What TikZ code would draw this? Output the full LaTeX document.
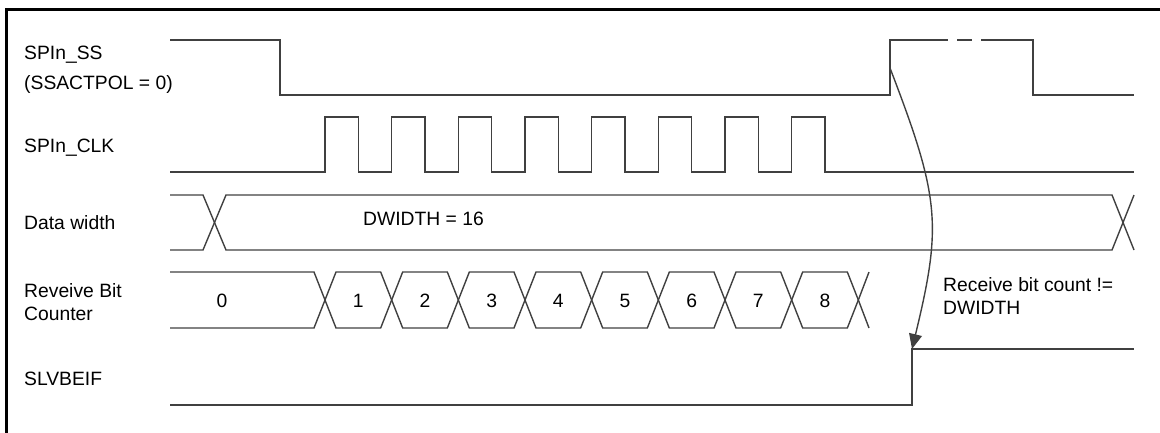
\documentclass[tikz,border=0pt]{standalone}
\usepackage{fontspec}
\setmainfont{Liberation Sans}
\usetikzlibrary{arrows.meta}
\begin{document}
\begin{tikzpicture}[x=1pt,y=-1pt,
  sig/.style={draw=black!75,line width=1.4pt,line join=miter},
  lbl/.style={inner sep=0pt,anchor=base west,font=\fontsize{19.3}{23}\selectfont},
  num/.style={inner sep=0pt,anchor=base,font=\fontsize{19.3}{23}\selectfont},
  frame/.style={draw=black,line width=2.6pt}]
\useasboundingbox (0,0) rectangle (1160,432);
% frame
\draw[frame] (6.5,433) -- (6.5,9.5) -- (1161,9.5);
% labels
\node[lbl] (lss1) at (24,59.6) {SPIn\_SS};
\node[lbl] (lss2) at (24,89) {(SSACTPOL = 0)};
\node[lbl] (lclk) at (24,152.4) {SPIn\_CLK};
\node[lbl] (ldw) at (24,229) {Data width};
\node[lbl] (lcnt1) at (24,297) {Reveive Bit};
\node[lbl] (lcnt2) at (24,320) {Counter};
\node[lbl] (lbe) at (24,385) {SLVBEIF};
% SPIn_SS
\draw[sig] (170,40) -- (280,40) -- (280,95) -- (890,95) -- (890,40) -- (948,40);
\draw[sig] (957,40) -- (972,40);
\draw[sig] (981,40) -- (1033,40) -- (1033,95) -- (1134,95);
% SPIn_CLK
\draw[sig] (170,172) \foreach \k in {0,...,7} {
  -- ({325+66.667*\k},172) -- ({325+66.667*\k},117)
  -- ({358.333+66.667*\k},117) -- ({358.333+66.667*\k},172) } -- (1134,172);
% Data width
\draw[sig] (170,195) -- (203,195) -- (214.5,222.5) -- (203,250) -- (170,250);
\draw[sig] (214.5,222.5) -- (226,195) -- (1112,195) -- (1123,222.5) -- (1112,250) -- (226,250) -- cycle;
\draw[sig] (1134,195) -- (1123,222.5) -- (1134,250);
\node[lbl] (dwv) at (363,225.7) {DWIDTH = 16};
% Receive bit counter
\draw[sig] (170,272) -- (314,272) -- (325,300) -- (314,328) -- (170,328);
\foreach \k in {0,...,7} {
  \draw[sig] ({325+66.667*\k},300) -- ({336+66.667*\k},272) -- ({380.667+66.667*\k},272)
    -- ({391.667+66.667*\k},300) -- ({380.667+66.667*\k},328) -- ({336+66.667*\k},328) -- cycle;
}
\draw[sig] (869,272) -- (858.333,300) -- (869,328);
\node[num] (n0) at (222,307) {0};
\foreach \k in {1,...,8} {
  \node[num] (n\k) at ({291.667+66.667*\k},307) {\k};
}
% SLVBEIF
\draw[sig] (170,405) -- (912,405) -- (912,349) -- (1134,349);
% causal arrow
\coordinate (ssrise) at (890,68);
\coordinate (berise) at (912,349);
\draw[draw=black!75,line width=1.4pt,-{Triangle[length=15pt,width=13pt,fill=black!75]}]
  (ssrise) .. controls (940,198) and (942,225) .. (berise);
\node[lbl] (note1) at (943,291) {Receive bit count !=};
\node[lbl] (note2) at (943,314.3) {DWIDTH};
\end{tikzpicture}
\end{document}
